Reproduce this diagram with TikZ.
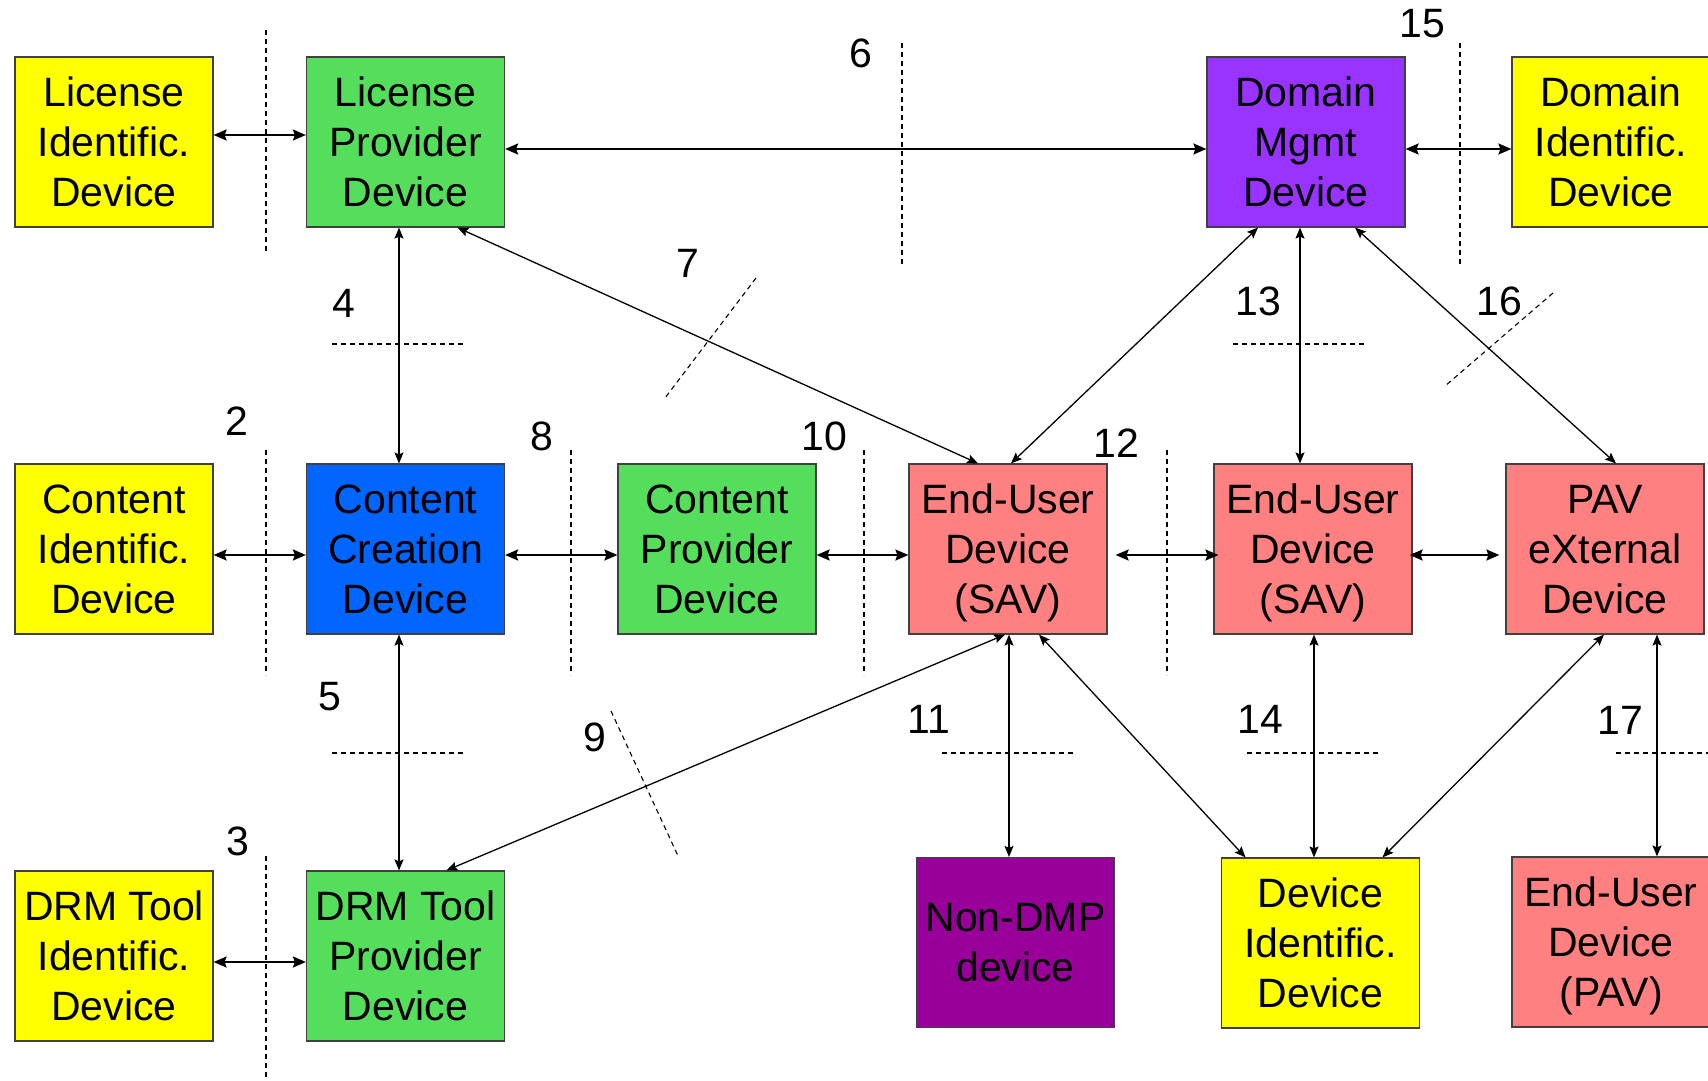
\documentclass[tikz,border=0pt]{standalone}
\usepackage{fontspec}
\setmainfont{Liberation Sans}
\usepackage{tikz}
\usetikzlibrary{positioning,arrows.meta}
\definecolor{idyellow}{RGB}{255,255,0}
\definecolor{provgreen}{RGB}{85,221,92}
\definecolor{creablue}{RGB}{0,102,255}
\definecolor{usersalmon}{RGB}{255,128,128}
\definecolor{mgmtviolet}{RGB}{153,51,255}
\definecolor{nondmpplum}{RGB}{153,0,153}
\newcommand{\devfont}{\fontsize{41}{50}\selectfont}
\tikzset{
node distance=291pt, % grid spacing of the boxes
dev/.style={draw=black!75, line width=1.2pt, minimum width=198pt, minimum height=170pt, inner sep=0pt, align=center, text depth=0pt, font=\devfont},
idbox/.style={dev, fill=idyellow},
provbox/.style={dev, fill=provgreen},
creabox/.style={dev, fill=creablue},
userbox/.style={dev, fill=usersalmon},
mgmtbox/.style={dev, fill=mgmtviolet},
nondmpbox/.style={dev, fill=nondmpplum},
num/.style={font=\devfont, inner sep=0pt},
link/.style={<->, line width=2pt, >={Stealth[length=13pt,width=11pt,inset=2pt]}},
thinlink/.style={<->, line width=1.3pt, >={Stealth[length=11pt,width=9pt,inset=2pt]}},
divider/.style={dash pattern=on 5pt off 4pt, line width=1.1pt},
}

\begin{document}
\begin{tikzpicture}[x=1pt,y=-1pt,on grid,auto]
   \useasboundingbox (0,0) rectangle (1708,1080);
   \node[idbox] (LID) at (114,142) {License\\Identific.\\Device};
   \node[provbox] (LPD) [right=291.5pt of LID] {License\\Provider\\Device};
   \node[creabox] (CCD) [below=407pt of LPD] {Content\\Creation\\Device};
   \node[idbox] (CID) [left=291.5pt of CCD] {Content\\Identific.\\Device};
   \node[provbox] (DTP) [below=407pt of CCD] {DRM Tool\\Provider\\Device};
   \node[idbox] (DTI) [left=291.5pt of DTP] {DRM Tool\\Identific.\\Device};
   \node[provbox] (CPD) [right=311.5pt of CCD] {Content\\Provider\\Device};
   \node[userbox] (EUS1) [right=of CPD] {End-User\\Device\\(SAV)};
   \node[userbox] (EUS2) [right=305pt of EUS1] {End-User\\Device\\(SAV)};
   \node[userbox] (PAVX) [right=292pt of EUS2] {PAV\\eXternal\\Device};
   \node[mgmtbox] (DMD) [above left=407pt and 7pt of EUS2] {Domain\\Mgmt\\Device};
   \node[idbox] (DID) [right=305pt of DMD] {Domain\\Identific.\\Device};
   \node[nondmpbox] (NDMP) [below right=393.5pt and 7.5pt of EUS1] {Non-DMP\\device};
   \node[idbox] (DEVID) [below right=394pt and 7.5pt of EUS2] {Device\\Identific.\\Device};
   \node[userbox] (EUPAV) [below right=393pt and 6pt of PAVX] {End-User\\Device\\(PAV)};

   % reference points
   \node[num] (n2) at (237,421) {2};
   \node[num] (n3) at (238,841) {3};
   \node[num] (n4) at (344,303) {4};
   \node[num] (n5) at (330,697) {5};
   \node[num] (n6) at (861,53) {6};
   \node[num] (n7) at (688,263) {7};
   \node[num] (n8) at (542,436) {8};
   \node[num] (n9) at (595,737) {9};
   \node[num] (n10) at (824,436) {10};
   \node[num] (n11) at (929,719) {11};
   \node[num] (n12) at (1116,443) {12};
   \node[num] (n13) at (1258,301) {13};
   \node[num] (n14) at (1260,719) {14};
   \node[num] (n15) at (1422,24) {15};
   \node[num] (n16) at (1499,301) {16};
   \node[num] (n17) at (1620,720) {17};

   \draw[divider] (266,30) -- (266,254);
   \draw[divider] (902,43) -- (902,267);
   \draw[divider] (1460,43) -- (1460,267);
   \draw[divider] (266,450) -- (266,675);
   \draw[divider] (571,450) -- (571,675);
   \draw[divider] (864,450) -- (864,675);
   \draw[divider] (1167,450) -- (1167,675);
   \draw[divider] (266,856) -- (266,1080);
   \draw[divider] (332,344) -- (464,344);
   \draw[divider] (1233,344) -- (1364,344);
   \draw[divider] (332,753) -- (464,753);
   \draw[divider] (942,753) -- (1073,753);
   \draw[divider] (1247,753) -- (1378,753);
   \draw[divider] (1616,753) -- (1708,753);
   \draw[divider] (756,278) -- (665,398);
   \draw[divider] (1553,293) -- (1445,386);
   \draw[divider] (611,711) -- (679,858);

    \path[link]
    ([yshift=7pt]LID.east) edge ([yshift=7pt]LPD.west)
    ([yshift=-7pt]LPD.east) edge ([yshift=-7pt]DMD.west)
    ([yshift=-7pt]DMD.east) edge ([yshift=-7pt]DID.west)
    ([yshift=-6pt]DTI.east) edge ([yshift=-6pt]DTP.west)
    ([yshift=-6pt]CID.east) edge ([yshift=-6pt]CCD.west)
    ([yshift=-6pt]CCD.east) edge ([yshift=-6pt]CPD.west)
    ([yshift=-6pt]CPD.east) edge ([yshift=-6pt]EUS1.west)
    ([xshift=8pt,yshift=-6pt]EUS1.east) edge ([xshift=5pt,yshift=-6pt]EUS2.west)
    ([xshift=-3pt,yshift=-6pt]EUS2.east) edge ([xshift=-6pt,yshift=-6pt]PAVX.west);
    \path[thinlink]
    ([xshift=-6.5pt]LPD.south) edge ([xshift=-6.5pt]CCD.north)
    ([xshift=-6.5pt]CCD.south) edge ([xshift=-6.5pt]DTP.north)
    ([xshift=52pt]LPD.south) edge ([xshift=-30pt]EUS1.north)
    ([xshift=-48pt]DMD.south) edge ([xshift=3pt]EUS1.north)
    ([xshift=-6pt]DMD.south) edge ([xshift=-13pt]EUS2.north)
    ([xshift=49pt]DMD.south) edge ([xshift=11pt]PAVX.north)
    ([xshift=-3pt]EUS1.south) edge ([xshift=41pt]DTP.north)
    ([xshift=1pt]EUS1.south) edge ([xshift=-6.5pt]NDMP.north)
    ([xshift=31pt]EUS1.south) edge ([xshift=-75pt]DEVID.north)
    ([xshift=1pt]EUS2.south) edge ([xshift=-6.5pt]DEVID.north)
    ([xshift=-1pt]PAVX.south) edge ([xshift=62pt]DEVID.north)
    ([xshift=52pt]PAVX.south) edge ([xshift=46pt]EUPAV.north);
\end{tikzpicture}
\end{document}
